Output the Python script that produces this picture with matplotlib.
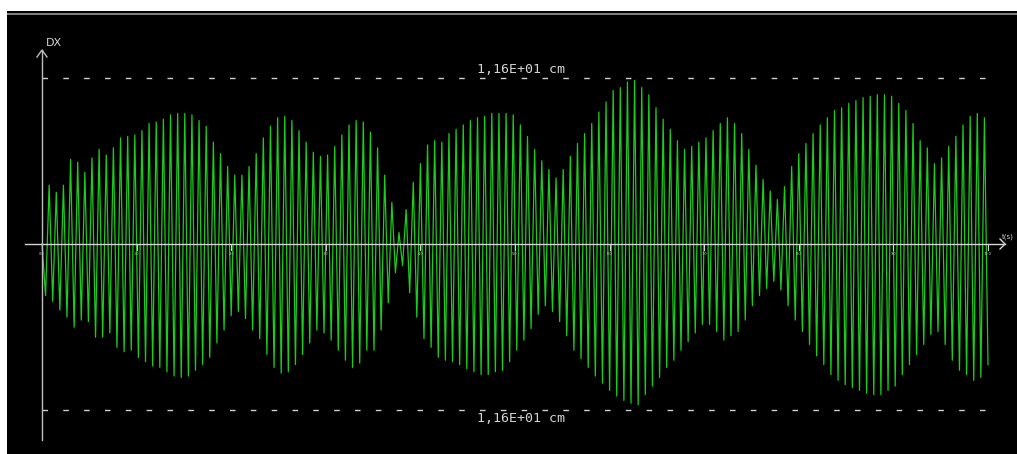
import numpy as np
import matplotlib
matplotlib.use("Agg")
import matplotlib.pyplot as plt

plt.rcParams['lines.scale_dashes'] = False

# ---------------- data ----------------
# peak heights (cm) of each oscillation, left to right
peaks_cm = [4.1, 3.6, 4.1, 5.9, 5.7, 5.0, 6.0, 6.6, 6.2, 6.7,
            7.4, 7.5, 7.6, 7.9, 8.4, 8.5, 8.7, 9.0, 9.1, 9.1,
            9.0, 8.6, 8.2, 7.1, 6.3, 5.4, 4.8,
            4.8, 5.4, 6.3, 7.4, 8.2, 8.8, 8.9, 8.6, 7.9, 7.1,
            6.4, 6.1, 6.2, 6.8, 7.6, 8.3, 8.6, 8.5, 7.8, 6.7,
            4.8, 2.9, 0.8, 2.4, 4.3, 5.6, 6.9, 7.2, 7.1,
            7.7, 8.0, 8.3, 8.6, 8.8, 8.9, 9.1, 9.1, 9.1, 9.0,
            8.3, 7.5, 6.6, 5.8, 5.2, 4.6, 5.2, 6.1, 7.0, 7.7,
            8.4, 9.2, 9.9, 10.7, 10.9, 11.3, 11.4, 10.9, 10.4, 9.5,
            8.7, 8.0, 7.2, 6.6, 6.8, 7.1, 7.4, 7.9, 8.4, 8.8,
            8.4, 7.7, 6.6, 5.5, 4.5, 3.7, 3.1, 4.0, 5.4, 6.3,
            7.0, 7.7, 8.3, 8.8, 9.3, 9.5, 9.8, 10.0, 10.2, 10.3,
            10.4, 10.4, 10.3, 9.8, 9.3, 8.4, 7.2, 6.7, 5.6, 6.0,
            6.8, 7.5, 8.3, 8.9, 9.1, 8.8]

# trough depths (cm), left to right (first one comes before the first peak)
troughs_cm = [3.6,
              4.0, 4.6, 5.1, 5.8, 5.3, 5.4, 6.5, 6.5, 6.2, 7.2,
              7.5, 7.4, 7.9, 8.2, 8.5, 8.6, 8.9, 9.2, 9.3, 9.2,
              8.8, 8.4, 7.9, 6.9, 6.0, 5.0, 4.7,
              5.2, 6.0, 6.6, 7.7, 8.6, 9.0, 8.9, 8.4, 7.7, 6.9,
              6.0, 6.2, 6.7, 7.4, 8.1, 8.6, 8.3, 7.4, 7.4, 6.0,
              4.1, 2.0, 1.5, 3.4, 5.1, 6.6, 7.2, 7.9, 8.1,
              8.2, 8.4, 8.7, 8.9, 9.1, 9.1, 8.9, 8.8, 8.2, 7.4,
              6.7, 5.9, 4.9, 4.3, 4.7, 5.4, 6.4, 7.4, 8.0, 8.6,
              9.2, 9.7, 10.2, 10.6, 10.9, 11.1, 11.2, 10.5, 9.9, 9.3,
              8.6, 8.1, 7.4, 6.8, 6.2, 5.6, 5.6, 6.1, 6.7, 6.4,
              6.1, 5.3, 4.3, 3.6, 3.1, 2.6, 3.2, 4.3, 5.3, 6.1,
              7.0, 7.8, 8.4, 9.1, 9.5, 9.8, 10.0, 10.2, 10.4, 10.5,
              10.5, 10.2, 9.9, 9.1, 8.4, 7.7, 7.0, 6.3, 6.1, 7.0,
              8.1, 8.8, 9.1, 9.5, 9.3, 8.4]

t_end = 10.0                  # s
t_ticks = np.arange(0, 11, 1)
tick_labels = ["%.1f" % v for v in t_ticks]
dx_max = 11.6                 # cm
max_label = "1,16E+01 cm"

# ---------------- build the trace ----------------
dx = [0.0]
for i in range(len(peaks_cm)):
    dx.append(-troughs_cm[i])
    dx.append(peaks_cm[i])
dx.append(-troughs_cm[len(peaks_cm)])
dx = np.array(dx)
t = np.linspace(0, t_end, len(dx))

# ---------------- figure ----------------
fig = plt.figure(figsize=(10.17, 4.54), dpi=100, facecolor='white')
ax = fig.add_axes([7/1017, 0, 1010/1017, 443/454])
ax.set_facecolor('black')
for s in ax.spines.values():
    s.set_visible(False)
ax.set_xticks([])
ax.set_yticks([])

px_t = 94.6    # pixels per second
px_v = 14.35   # pixels per cm
ax.set_xlim(-35/px_t, 975/px_t)
ax.set_ylim(-210/px_v, 233/px_v)

axis_col = '#d4d4d4'

# grey rule near the top
ax.axhline(230/px_v, color='#9a9a9a', lw=1.2)

# signal
ax.plot(t, dx, color='#1ccc1c', lw=0.9, zorder=3)

# horizontal axis + arrow
ax.plot([-17/px_t, 963/px_t], [0, 0], color=axis_col, lw=1, zorder=4)
tip = 963/px_t
ax.plot([tip - 5/px_t, tip, tip - 5/px_t], [5/px_v, 0, -5/px_v], color=axis_col, lw=1, zorder=4)
ax.text(tip - 3/px_t, 4/px_v, "t(s)", color=axis_col, fontsize=5, ha='left', va='bottom')

# tick marks and their (tiny) labels
for tk, lab in zip(t_ticks, tick_labels):
    ax.plot([tk, tk], [0, -6/px_v], color=axis_col, lw=0.8, zorder=4)
    ax.text(tk, -8/px_v, lab, color=axis_col, fontsize=2.5, ha='center', va='top')

# vertical axis + arrow
ytop = 194/px_v
ax.plot([0, 0], [-196/px_v, ytop], color='#bdbdbd', lw=1, zorder=4)
ax.plot([-5/px_t, 0, 5/px_t], [ytop - 7/px_v, ytop, ytop - 7/px_v], color='#bdbdbd', lw=1, zorder=4)
ax.text(4/px_t, ytop + 2/px_v, "DX", color=axis_col, fontsize=8, ha='left', va='bottom')

# max / min dashed lines
for sgn in (1, -1):
    ax.plot([0, 948/px_t], [sgn*dx_max, sgn*dx_max], color='#cfcfcf', lw=1,
            linestyle=(0, (4, 11)), zorder=2)
ax.text(479/px_t, dx_max + 2/px_v, max_label, color=axis_col, fontsize=9.5,
        family='DejaVu Sans Mono', ha='center', va='bottom')
ax.text(479/px_t, -dx_max - 2/px_v, max_label, color=axis_col, fontsize=9.5,
        family='DejaVu Sans Mono', ha='center', va='top')

fig.savefig("out.png", dpi=100, facecolor=fig.get_facecolor())
